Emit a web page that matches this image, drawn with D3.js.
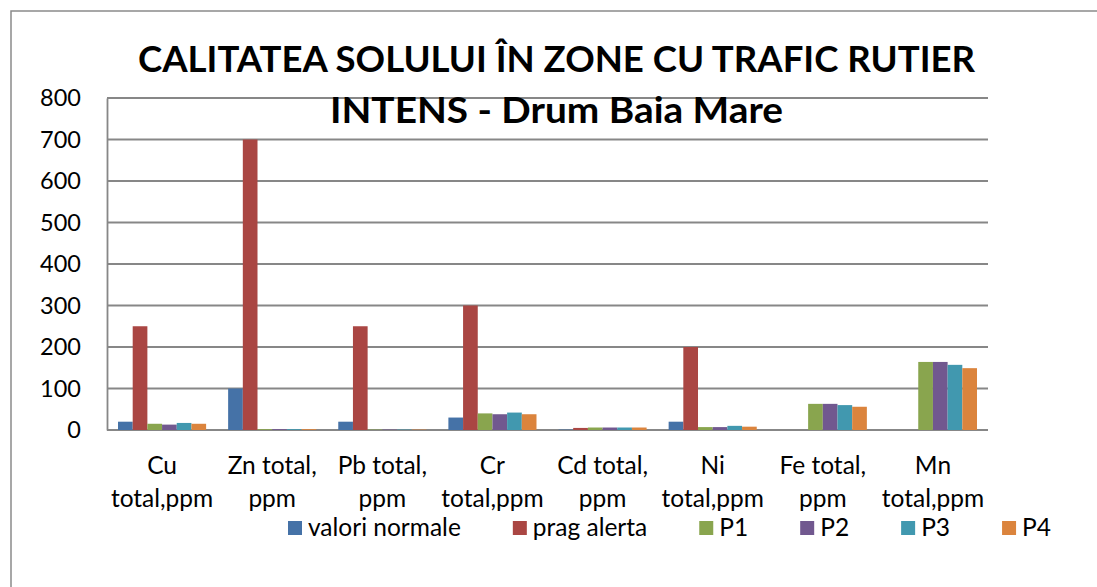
<!DOCTYPE html>
<html>
<head>
<meta charset="utf-8">
<script src="https://cdn.jsdelivr.net/npm/d3@7"></script>
<style>
  body { margin: 0; background: #fff; }
  text { font-family: Lato, "Open Sans", sans-serif; fill: #000; }
</style>
</head>
<body>
<svg id="chart" width="1097" height="587"></svg>
<script>
// data
var categories = ['Cu total,ppm', 'Zn total, ppm', 'Pb total, ppm', 'Cr total,ppm',
                  'Cd total, ppm', 'Ni total,ppm', 'Fe total, ppm', 'Mn total,ppm']
var seriesNames = ['valori normale', 'prag alerta', 'P1', 'P2', 'P3', 'P4']
var valoriNormale = [20, 100, 20, 30, 1, 20, null, null]
var pragAlerta = [250, 700, 250, 300, 5, 200, null, null]
var p1 = [15, 2, 1, 40, 6, 7, 63, 164]
var p2 = [13, 2, 1, 38, 6, 7, 63, 164]
var p3 = [17, 2, 1, 42, 6, 10, 60, 157]
var p4 = [15, 2, 1, 38, 6, 8, 56, 149]
var yTicks = [0, 100, 200, 300, 400, 500, 600, 700, 800]
var colors = ['#4572A7', '#AA4643', '#89A54E', '#71588F', '#4198AF', '#DB843D']
var titleLines = ['CALITATEA SOLULUI ÎN ZONE CU TRAFIC RUTIER', 'INTENS - Drum Baia Mare']

var seriesValues = [valoriNormale, pragAlerta, p1, p2, p3, p4]

var svg = d3.select('#chart')

// outer chart frame (runs off the right/bottom edge)
svg.append('rect')
  .attr('x', 11)
  .attr('y', 11)
  .attr('width', 1200)
  .attr('height', 700)
  .attr('fill', 'none')
  .attr('stroke', '#8a8a8a')
  .attr('stroke-width', 1.5)

var plot = { left: 107, right: 988, top: 98, bottom: 430 }

var x = d3.scaleBand()
  .domain(categories)
  .range([plot.left, plot.right])
  .paddingInner(0)
  .paddingOuter(0)

// gap width 150% -> 0.75 step on each side
var xs = d3.scaleBand()
  .domain(seriesNames)
  .range([0, x.bandwidth()])
  .paddingInner(0)
  .paddingOuter(0.75)

var y = d3.scaleLinear()
  .domain([0, 800])
  .range([plot.bottom, plot.top])

// gridlines
svg.append('g')
  .selectAll('line')
  .data(yTicks)
  .join('line')
  .attr('x1', plot.left)
  .attr('x2', plot.right)
  .attr('y1', d => y(d))
  .attr('y2', d => y(d))
  .attr('stroke', '#878787')
  .attr('stroke-width', 1.8)

// bars
svg.append('g')
  .selectAll('g')
  .data(seriesValues)
  .join('g')
  .attr('fill', (d, i) => colors[i])
  .each(function (vals, si) {
    d3.select(this)
      .selectAll('rect')
      .data(vals.map((v, ci) => ({ cat: categories[ci], v: v })).filter(d => d.v != null))
      .join('rect')
      .attr('x', d => x(d.cat) + xs(seriesNames[si]))
      .attr('width', xs.bandwidth())
      .attr('y', d => y(d.v))
      .attr('height', d => y(0) - y(d.v))
  })

// value axis
var yAxis = svg.append('g')
  .attr('transform', 'translate(' + plot.left + ',0)')
  .call(d3.axisLeft(y).tickValues(yTicks).tickSize(0).tickPadding(26).tickFormat(d3.format('d')))
yAxis.select('.domain')
  .attr('stroke', '#878787')
  .attr('stroke-width', 1.8)
yAxis.selectAll('text')
  .style('font-family', 'Lato, sans-serif')
  .style('font-size', '23.5px')
  .attr('fill', '#000')

// category labels, wrapped on two lines
function wrapLabel(s) {
  var k = s.indexOf(', ')
  if (k >= 0) return [s.slice(0, k + 1), s.slice(k + 2)]
  k = s.indexOf(' ')
  return [s.slice(0, k), s.slice(k + 1)]
}

var catLabels = svg.append('g')
  .selectAll('text')
  .data(categories)
  .join('text')
  .attr('text-anchor', 'middle')
  .style('font-size', '24.5px')
  .attr('x', d => x(d) + x.bandwidth() / 2)
  .attr('y', 474)

catLabels.selectAll('tspan')
  .data(d => wrapLabel(d))
  .join('tspan')
  .attr('x', function () { return d3.select(this.parentNode).attr('x') })
  .attr('dy', (d, i) => i === 0 ? 0 : 33)
  .text(d => d)

// title
svg.append('g')
  .selectAll('text')
  .data(titleLines)
  .join('text')
  .attr('x', 556.5)
  .attr('y', (d, i) => 72 + i * 51)
  .attr('text-anchor', 'middle')
  .style('font-size', '37px')
  .style('font-weight', 'bold')
  .attr('textLength', (d, i) => i === 0 ? 837 : 453)
  .attr('lengthAdjust', 'spacingAndGlyphs')
  .text(d => d)

// legend
var legend = svg.append('g').attr('id', 'legend')
var lx = 288
seriesNames.forEach(function (name, i) {
  var item = legend.append('g').attr('transform', 'translate(' + lx + ',0)')
  item.append('rect')
    .attr('x', 0)
    .attr('y', 521)
    .attr('width', 14)
    .attr('height', 14)
    .attr('fill', colors[i])
  var t = item.append('text')
    .attr('x', 20)
    .attr('y', 536)
    .style('font-size', '24.5px')
    .text(name)
  lx += 20 + t.node().getComputedTextLength() + 52
})
</script>
</body>
</html>
